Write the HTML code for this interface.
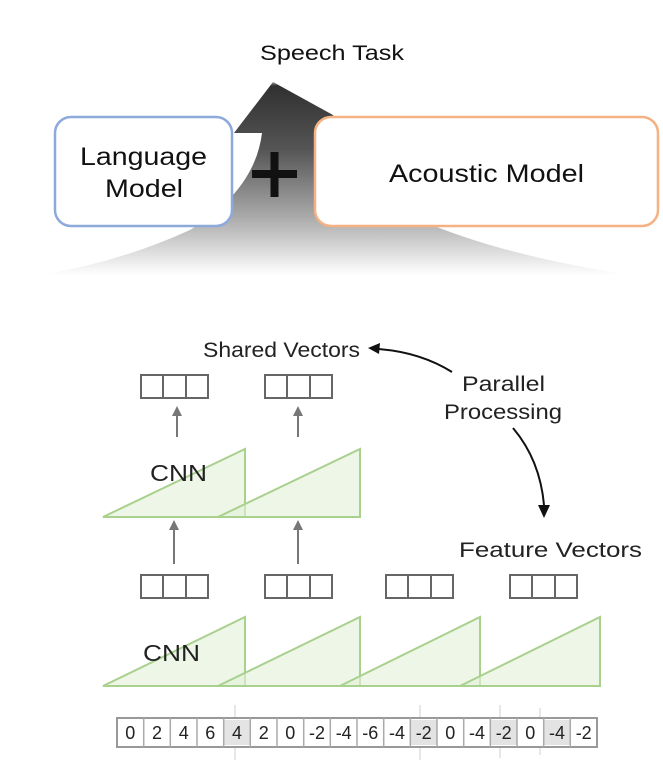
<!DOCTYPE html>
<html><head><style>
body{margin:0;background:#fff;}
svg text{font-family:"Liberation Sans","DejaVu Sans",sans-serif;}
</style></head><body>
<svg width="663" height="769" viewBox="0 0 663 769" xmlns="http://www.w3.org/2000/svg">
<defs>
<linearGradient id="g" x1="0" y1="0" x2="0" y2="1">
<stop offset="0" stop-color="#2e2e2e"/>
<stop offset="0.35" stop-color="#555"/>
<stop offset="0.7" stop-color="#aaa"/>
<stop offset="1" stop-color="#fff"/>
</linearGradient>
<radialGradient id="h" cx="0.5" cy="0" r="0.5">
<stop offset="0" stop-color="#fff"/><stop offset="1" stop-color="#fff" stop-opacity="0"/>
</radialGradient>
</defs>
<path d="M273 82 L234 133 L262 133 Q255 190 190 230 Q120 262 40 275 L630 275 Q500 255 420 220 Q360 180 333 115 Z" fill="url(#g)"/>
<ellipse cx="273" cy="86" rx="14" ry="8" fill="url(#h)"/>
<text x="260" y="60" font-size="21" textLength="144" lengthAdjust="spacingAndGlyphs" fill="#111">Speech Task</text>
<rect x="55" y="117" width="177" height="109" rx="16" fill="#fff" stroke="#8eaadb" stroke-width="2.5"/>
<text x="80" y="165" font-size="25" textLength="127" lengthAdjust="spacingAndGlyphs" fill="#111">Language</text>
<text x="105" y="197" font-size="25" textLength="78" lengthAdjust="spacingAndGlyphs" fill="#111">Model</text>
<rect x="315" y="117" width="343" height="109" rx="16" fill="#fff" stroke="#f4b183" stroke-width="2.5"/>
<text x="389" y="182" font-size="25" textLength="195" lengthAdjust="spacingAndGlyphs" fill="#111">Acoustic Model</text>
<rect x="252" y="170" width="45" height="8" fill="#111"/>
<rect x="270.5" y="152" width="8" height="45" fill="#111"/>

<g fill="#e2f0d9" fill-opacity="0.6" stroke="#a9d18e" stroke-width="2">
<polygon points="103,517 245,449 245,517"/>
<polygon points="218,517 360,449 360,517"/>
<polygon points="103,686 245,617 245,686"/>
<polygon points="218,686 360,617 360,686"/>
<polygon points="340,686 480,617 480,686"/>
<polygon points="460,686 600,617 600,686"/>
</g>
<text x="150" y="481" font-size="23" textLength="57" lengthAdjust="spacingAndGlyphs" fill="#222">CNN</text>
<text x="143" y="661" font-size="23" textLength="57" lengthAdjust="spacingAndGlyphs" fill="#222">CNN</text>

<g fill="#fff" stroke="#666" stroke-width="2">
<rect x="141" y="375" width="67" height="23"/><line x1="163" y1="375" x2="163" y2="398"/><line x1="186" y1="375" x2="186" y2="398"/>
<rect x="265" y="375" width="67" height="23"/><line x1="287" y1="375" x2="287" y2="398"/><line x1="310" y1="375" x2="310" y2="398"/>
<rect x="141" y="575" width="67" height="23"/><line x1="163" y1="575" x2="163" y2="598"/><line x1="186" y1="575" x2="186" y2="598"/>
<rect x="265" y="575" width="67" height="23"/><line x1="287" y1="575" x2="287" y2="598"/><line x1="310" y1="575" x2="310" y2="598"/>
<rect x="386" y="575" width="67" height="23"/><line x1="408" y1="575" x2="408" y2="598"/><line x1="431" y1="575" x2="431" y2="598"/>
<rect x="510" y="575" width="67" height="23"/><line x1="532" y1="575" x2="532" y2="598"/><line x1="555" y1="575" x2="555" y2="598"/>
</g>
<g stroke="#777" stroke-width="2" fill="#777">
<line x1="177" y1="437" x2="177" y2="414"/><polygon points="172,416 182,416 177,406" stroke="none"/>
<line x1="298" y1="437" x2="298" y2="414"/><polygon points="293,416 303,416 298,406" stroke="none"/>
<line x1="174" y1="564" x2="174" y2="528"/><polygon points="169,530 179,530 174,520" stroke="none"/>
<line x1="298" y1="564" x2="298" y2="528"/><polygon points="293,530 303,530 298,520" stroke="none"/>
</g>
<text x="203" y="357" font-size="21" textLength="157" lengthAdjust="spacingAndGlyphs" fill="#222">Shared Vectors</text>
<text x="462" y="391" font-size="21" textLength="83" lengthAdjust="spacingAndGlyphs" fill="#222">Parallel</text>
<text x="444" y="419" font-size="21" textLength="118" lengthAdjust="spacingAndGlyphs" fill="#222">Processing</text>
<text x="459" y="557" font-size="21" textLength="183" lengthAdjust="spacingAndGlyphs" fill="#222">Feature Vectors</text>
<path d="M452 372 Q420 352 378 349" fill="none" stroke="#111" stroke-width="2"/>
<polygon points="368,348 380,343 379,354" fill="#111"/>
<path d="M513 428 Q540 460 544 505" fill="none" stroke="#111" stroke-width="2"/>
<polygon points="538,505 550,505 544,518" fill="#111"/>

<g stroke="#bbb" stroke-width="1" opacity="0.7">
<line x1="235" y1="705" x2="235" y2="760"/><line x1="420" y1="705" x2="420" y2="760"/><line x1="500" y1="705" x2="500" y2="758"/><line x1="540" y1="708" x2="540" y2="755"/>
</g>
<rect x="117" y="718" width="480" height="29" fill="#fff" stroke="#999" stroke-width="2"/>
<g fill="#ddd" opacity="0.8">
<rect x="224" y="720" width="26" height="25"/><rect x="411" y="720" width="26" height="25"/><rect x="491" y="720" width="26" height="25"/><rect x="544" y="720" width="26" height="25"/>
</g>
<g stroke="#aaa" stroke-width="1.5">
<line x1="143.7" y1="718" x2="143.7" y2="747"/><line x1="170.3" y1="718" x2="170.3" y2="747"/><line x1="197" y1="718" x2="197" y2="747"/><line x1="223.7" y1="718" x2="223.7" y2="747"/><line x1="250.3" y1="718" x2="250.3" y2="747"/><line x1="277" y1="718" x2="277" y2="747"/><line x1="303.7" y1="718" x2="303.7" y2="747"/><line x1="330.3" y1="718" x2="330.3" y2="747"/><line x1="357" y1="718" x2="357" y2="747"/><line x1="383.7" y1="718" x2="383.7" y2="747"/><line x1="410.3" y1="718" x2="410.3" y2="747"/><line x1="437" y1="718" x2="437" y2="747"/><line x1="463.7" y1="718" x2="463.7" y2="747"/><line x1="490.3" y1="718" x2="490.3" y2="747"/><line x1="517" y1="718" x2="517" y2="747"/><line x1="543.7" y1="718" x2="543.7" y2="747"/><line x1="570.3" y1="718" x2="570.3" y2="747"/>
</g>
<g font-size="18" text-anchor="middle" fill="#222">
<text x="130.3" y="739">0</text><text x="157" y="739">2</text><text x="183.7" y="739">4</text><text x="210.3" y="739">6</text><text x="237" y="739">4</text><text x="263.7" y="739">2</text><text x="290.3" y="739">0</text><text x="317" y="739">-2</text><text x="343.7" y="739">-4</text><text x="370.3" y="739">-6</text><text x="397" y="739">-4</text><text x="423.7" y="739">-2</text><text x="450.3" y="739">0</text><text x="477" y="739">-4</text><text x="503.7" y="739">-2</text><text x="530.3" y="739">0</text><text x="557" y="739">-4</text><text x="583.7" y="739">-2</text>
</g>
</svg>
</body></html>
